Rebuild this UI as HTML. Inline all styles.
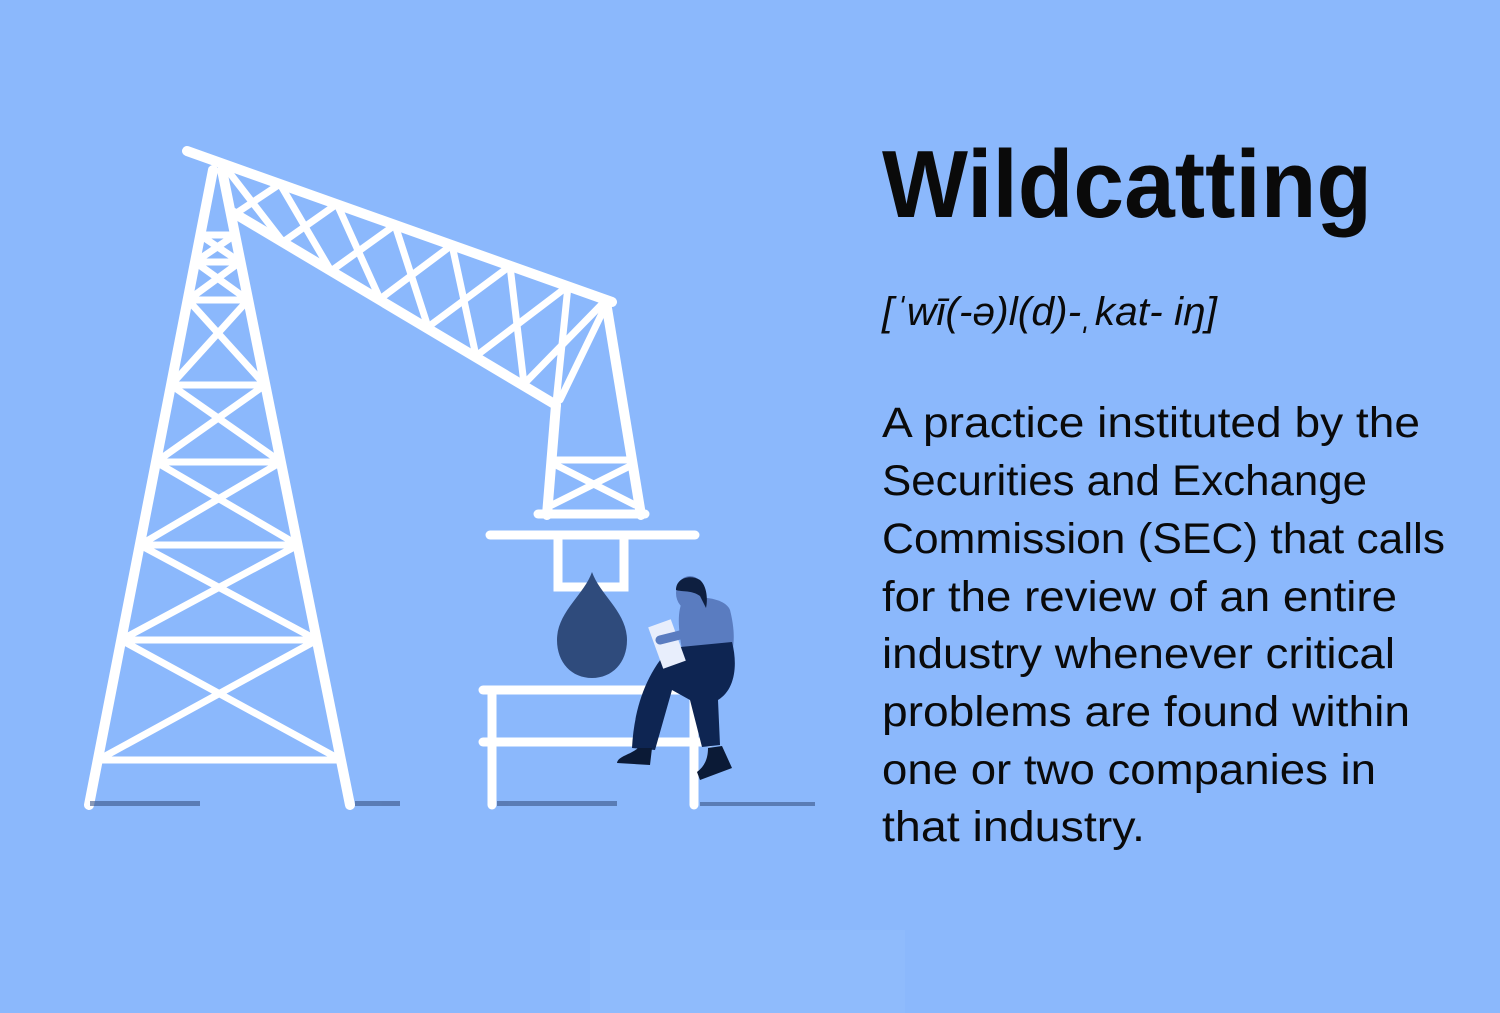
<!DOCTYPE html>
<html><head><meta charset="utf-8"><style>
html,body{margin:0;padding:0;background:#8bb8fc;}
svg{display:block;}
</style></head><body>
<svg width="1500" height="1013" viewBox="0 0 1500 1013" xmlns="http://www.w3.org/2000/svg">
<rect width="1500" height="1013" fill="#8bb8fc"/>
<rect x="590" y="930" width="315" height="83" fill="#8fbbfc"/>
<g stroke="#ffffff" stroke-linecap="round" fill="none">
  <g stroke-width="10">
    <line x1="213" y1="170" x2="89" y2="805"/>
    <line x1="222" y1="170" x2="350" y2="805"/>
  </g>
  <g stroke-width="7">
    <line x1="200" y1="235" x2="235" y2="235"/>
    <line x1="195" y1="262" x2="240" y2="262"/>
    <line x1="188" y1="300" x2="248" y2="300"/>
    <line x1="171" y1="385" x2="265" y2="385"/>
    <line x1="156" y1="462" x2="281" y2="462"/>
    <line x1="140" y1="545" x2="298" y2="545"/>
    <line x1="121" y1="640" x2="317" y2="640"/>
    <line x1="98" y1="760" x2="341" y2="760"/>
    <line x1="200" y1="235" x2="240" y2="262"/><line x1="235" y1="235" x2="195" y2="262"/>
    <line x1="195" y1="262" x2="248" y2="300"/><line x1="240" y1="262" x2="188" y2="300"/>
    <line x1="188" y1="300" x2="265" y2="385"/><line x1="248" y1="300" x2="171" y2="385"/>
    <line x1="171" y1="385" x2="281" y2="462"/><line x1="265" y1="385" x2="156" y2="462"/>
    <line x1="156" y1="462" x2="298" y2="545"/><line x1="281" y1="462" x2="140" y2="545"/>
    <line x1="140" y1="545" x2="317" y2="640"/><line x1="298" y1="545" x2="121" y2="640"/>
    <line x1="121" y1="640" x2="341" y2="760"/><line x1="317" y1="640" x2="98" y2="760"/>
  </g>
  <g stroke-width="10">
    <line x1="187" y1="151" x2="612" y2="302"/>
    <line x1="232" y1="212" x2="556" y2="405"/>
    <line x1="606" y1="302" x2="641" y2="515"/>
    <line x1="556" y1="405" x2="547" y2="515"/>
  </g>
  <g stroke-width="7">
    <line x1="222" y1="163" x2="283" y2="242"/><line x1="235" y1="214" x2="280" y2="184"/>
    <line x1="280" y1="184" x2="331" y2="271"/><line x1="283" y1="242" x2="337" y2="204"/>
    <line x1="337" y1="204" x2="380" y2="299"/><line x1="331" y1="271" x2="395" y2="225"/>
    <line x1="395" y1="225" x2="428" y2="327"/><line x1="380" y1="299" x2="452" y2="245"/>
    <line x1="452" y1="245" x2="476" y2="356"/><line x1="428" y1="327" x2="510" y2="266"/>
    <line x1="510" y1="266" x2="524" y2="384"/><line x1="476" y1="356" x2="568" y2="286"/>
    <line x1="568" y1="286" x2="556" y2="403"/><line x1="524" y1="384" x2="606" y2="300"/>
    <line x1="560" y1="400" x2="606" y2="305"/>
    <line x1="556" y1="460" x2="632" y2="460"/>
    <line x1="556" y1="465" x2="635" y2="505"/>
    <line x1="632" y1="465" x2="552" y2="505"/>
  </g>
  <g stroke-width="9">
    <line x1="538" y1="514" x2="645" y2="514"/>
    <line x1="490" y1="535" x2="695" y2="535"/>
    <polyline points="558,538 558,587 624,587 624,538"/>
  </g>
  <g stroke-width="9">
    <line x1="483" y1="690" x2="710" y2="690"/>
    <line x1="483" y1="742" x2="710" y2="742"/>
    <line x1="492" y1="690" x2="492" y2="805"/>
    <line x1="694" y1="690" x2="694" y2="805"/>
  </g>
</g>
<g fill="#3b5485" opacity="0.6">
  <rect x="90" y="801" width="110" height="5"/>
  <rect x="355" y="801" width="45" height="5"/>
  <rect x="497" y="801" width="120" height="5"/>
  <rect x="700" y="802" width="115" height="4"/>
</g>
<path d="M592,572 C600,595 627,612 627,640 C627,663 612,678 592,678 C572,678 557,663 557,640 C557,612 584,595 592,572 Z" fill="#2f4b7c"/>
<g>
  <path d="M683,600 C700,595 725,598 730,610 C735,630 735,645 730,660 L685,665 C680,640 675,615 683,600 Z" fill="#5a7cc0"/>
  <ellipse cx="690" cy="593" rx="14" ry="17" fill="#5a7cc0"/>
  <path d="M676,590 C676,578 690,574 700,580 C707,586 708,600 706,608 L700,596 C692,590 682,592 676,590 Z" fill="#0e1f40"/>
  <path d="M670,648 L732,642 C738,665 735,690 718,700 L720,745 L702,747 L690,700 L672,690 L655,750 L632,748 C634,710 645,675 670,648 Z" fill="#0e2552"/>
  <path d="M638,748 L652,748 L650,765 L617,763 C618,756 630,755 638,748 Z" fill="#0b1a36"/>
  <path d="M708,748 L722,746 L732,768 L700,780 L697,772 C705,766 708,758 708,748 Z" fill="#0b1a36"/>
  <rect x="655" y="622" width="24" height="44" transform="rotate(-20 667 644)" fill="#e8eefc"/>
  <path d="M660,640 L700,630" stroke="#5a7cc0" stroke-width="9" stroke-linecap="round"/>
</g>
<g font-family="'Liberation Sans', sans-serif" fill="#0a0a0a">
  <text x="882" y="217" font-size="96" font-weight="bold" textLength="490" lengthAdjust="spacingAndGlyphs">Wildcatting</text>
  <text x="882" y="325" font-size="40" font-style="italic" textLength="335" lengthAdjust="spacingAndGlyphs">[ˈwī(-ə)l(d)-ˌkat- iŋ]</text>
  <g font-size="43">
    <text x="882" y="437" textLength="538" lengthAdjust="spacingAndGlyphs">A practice instituted by the</text>
    <text x="882" y="495" textLength="485" lengthAdjust="spacingAndGlyphs">Securities and Exchange</text>
    <text x="882" y="553" textLength="563" lengthAdjust="spacingAndGlyphs">Commission (SEC) that calls</text>
    <text x="882" y="611" textLength="515" lengthAdjust="spacingAndGlyphs">for the review of an entire</text>
    <text x="882" y="668" textLength="513" lengthAdjust="spacingAndGlyphs">industry whenever critical</text>
    <text x="882" y="726" textLength="528" lengthAdjust="spacingAndGlyphs">problems are found within</text>
    <text x="882" y="784" textLength="494" lengthAdjust="spacingAndGlyphs">one or two companies in</text>
    <text x="882" y="841" textLength="263" lengthAdjust="spacingAndGlyphs">that industry.</text>
  </g>
</g>
</svg>
</body></html>
